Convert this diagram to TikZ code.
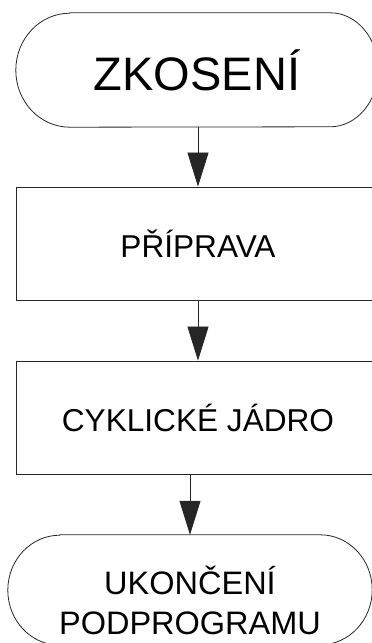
\documentclass[tikz,border=0pt]{standalone}
\usepackage{fontspec}
\setmainfont{Liberation Sans}
\usetikzlibrary{arrows.meta}
\begin{document}
\begin{tikzpicture}[x=1pt,y=1pt,
  outline/.style={draw=black!85,line width=0.8pt},
  box/.style={outline,rectangle,minimum width=364pt,minimum height=113pt,inner sep=0pt,font=\fontsize{31.6}{38}\selectfont},
  termspace/.style={minimum width=#1,minimum height=114pt,inner sep=0pt},
  flow/.style={draw=black!85,line width=0.8pt,-{Triangle[width=21pt,length=34pt]}},
]
\useasboundingbox (0,0) rectangle (372,643);
\clip (0,0) rectangle (372,643);

% start terminator
\node[termspace=362pt,font=\fontsize{47}{56}\selectfont] (start) at (197,573) {ZKOSENÍ};
\draw[outline] ([xshift=54pt]start.north west) -- ([xshift=-48pt]start.north east)
  arc[start angle=90,end angle=-90,x radius=48pt,y radius=57pt]
  -- ([xshift=54pt]start.south west)
  arc[start angle=270,end angle=90,x radius=54pt,y radius=57pt] -- cycle;

% process boxes
\node[box] (prep) at (198,399.5) {PŘÍPRAVA};
\node[box] (core) at (198,225.5) {CYKLICKÉ JÁDRO};

% end terminator
\node[termspace=364pt,minimum height=110pt] (end) at (190,53) {};
\draw[outline] ([xshift=52pt]end.north west) -- ([xshift=-52pt]end.north east)
  arc[start angle=90,end angle=-90,x radius=52pt,y radius=55pt]
  -- ([xshift=52pt]end.south west)
  arc[start angle=270,end angle=90,x radius=52pt,y radius=55pt] -- cycle;
\node[align=center,font=\fontsize{32.5}{40}\selectfont] (endtxt) at ([yshift=-10pt]end.center) {UKONČENÍ\\PODPROGRAMU};

% connectors
\draw[flow] (start.south -| prep.north) -- (prep.north);
\draw[flow] (prep.south) -- (core.north);
\draw[flow] (end.north |- core.south) -- (end.north);
\end{tikzpicture}
\end{document}
